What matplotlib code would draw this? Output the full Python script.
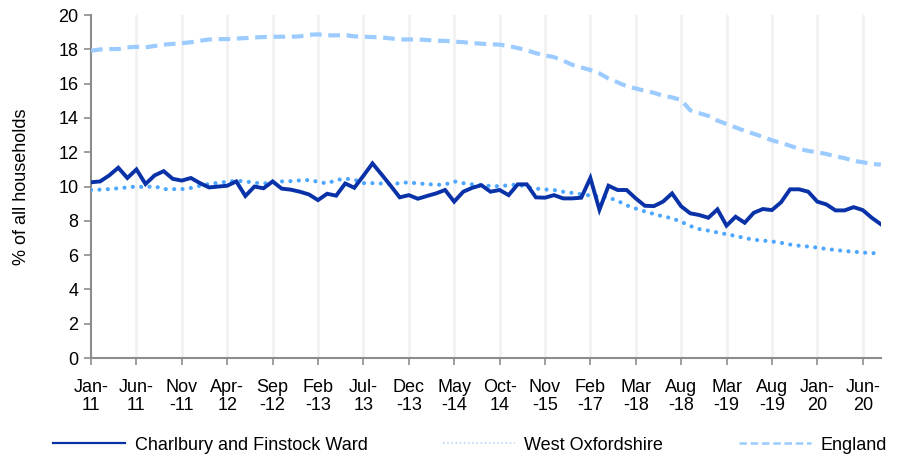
import matplotlib
matplotlib.use('Agg')
import matplotlib.pyplot as plt
from matplotlib.lines import Line2D

plt.rcParams['font.family'] = ['Liberation Sans', 'DejaVu Sans']

# tick labels, one every 5 data points
tick_labels = ['Jan-\n11', 'Jun-\n11', 'Nov\n-11', 'Apr-\n12', 'Sep\n-12', 'Feb\n-13',
               'Jul-\n13', 'Dec\n-13', 'May\n-14', 'Oct-\n14', 'Nov\n-15', 'Feb\n-17',
               'Mar\n-18', 'Aug\n-18', 'Mar\n-19', 'Aug\n-19', 'Jan-\n20', 'Jun-\n20']

ward = [10.25, 10.3, 10.65, 11.1, 10.5, 11.0, 10.15, 10.65, 10.9, 10.45,
        10.35, 10.5, 10.2, 9.95, 10.0, 10.05, 10.3, 9.45, 10.0, 9.9,
        10.3, 9.88, 9.82, 9.7, 9.54, 9.21, 9.58, 9.47, 10.18, 9.93,
        10.63, 11.35, 10.71, 10.05, 9.37, 9.5, 9.29, 9.45, 9.6, 9.8,
        9.12, 9.7, 9.93, 10.08, 9.7, 9.8, 9.5, 10.13, 10.13, 9.37,
        9.35, 9.5, 9.31, 9.31, 9.35, 10.5, 8.65, 10.05, 9.8, 9.8,
        9.31, 8.88, 8.86, 9.12, 9.6, 8.85, 8.44, 8.34, 8.18, 8.67,
        7.72, 8.24, 7.89, 8.47, 8.69, 8.63, 9.08, 9.84, 9.84, 9.7,
        9.12, 8.96, 8.61, 8.61, 8.8, 8.63, 8.18, 7.8]

west_oxon = [9.8, 9.82, 9.85, 9.9, 9.95, 10.0, 9.97, 10.02, 9.85, 9.85,
             9.85, 9.92, 10.05, 10.15, 10.22, 10.28, 10.34, 10.3, 10.22, 10.18,
             10.24, 10.3, 10.32, 10.36, 10.38, 10.28, 10.18, 10.38, 10.46, 10.4,
             10.2, 10.2, 10.18, 10.13, 10.2, 10.25, 10.18, 10.15, 10.1, 10.12,
             10.3, 10.2, 10.13, 10.1, 10.03, 10.02, 10.08, 10.12, 9.98, 9.88,
             9.83, 9.8, 9.7, 9.63, 9.55, 9.48, 9.42, 9.36, 9.17, 8.9,
             8.72, 8.55, 8.4, 8.26, 8.15, 7.95, 7.7, 7.52, 7.43, 7.32,
             7.22, 7.12, 7.0, 6.9, 6.85, 6.8, 6.72, 6.62, 6.55, 6.5,
             6.44, 6.36, 6.3, 6.24, 6.2, 6.15, 6.12, 6.1]

england = [17.92, 18.0, 18.02, 18.02, 18.12, 18.15, 18.12, 18.2, 18.28, 18.32,
           18.36, 18.42, 18.5, 18.58, 18.6, 18.6, 18.63, 18.66, 18.7, 18.72,
           18.74, 18.74, 18.74, 18.76, 18.85, 18.88, 18.82, 18.82, 18.84, 18.76,
           18.74, 18.72, 18.7, 18.64, 18.58, 18.58, 18.58, 18.55, 18.5, 18.5,
           18.45, 18.42, 18.37, 18.33, 18.3, 18.28, 18.2, 18.08, 17.95, 17.78,
           17.65, 17.55, 17.35, 17.1, 16.95, 16.8, 16.6, 16.3, 16.08, 15.85,
           15.72, 15.58, 15.47, 15.3, 15.2, 15.05, 14.45, 14.28, 14.12, 13.85,
           13.65, 13.45, 13.25, 13.08, 12.9, 12.7, 12.55, 12.38, 12.2, 12.08,
           12.0, 11.9, 11.76, 11.66, 11.5, 11.42, 11.32, 11.28]

c_ward = '#0a32a8'
c_wox = '#4da6ff'
c_eng = '#9ccbff'
grey = '#8c8c8c'
fs = 13

fig = plt.figure(figsize=(8.97, 4.58), dpi=100)
ax = fig.add_axes([0.1015, 0.2183, 0.8805, 0.7487])

x = list(range(len(ward)))
ax.plot(x, england, color=c_eng, lw=3.0, linestyle=(0, (2.8, 1.6)), zorder=3)
ax.plot(x, west_oxon, color=c_wox, lw=3.0, linestyle=(0, (0.01, 2.0)),
        dash_capstyle='round', zorder=4)
ax.plot(x, ward, color=c_ward, lw=2.8, solid_joinstyle='miter', zorder=5)

ticks = list(range(0, len(ward), 5))
ax.set_xticks(ticks)
ax.set_xticklabels(tick_labels, fontsize=fs, linespacing=1.05)
ax.set_xlim(0, len(ward) - 1)
ax.set_ylim(0, 20)
ax.set_yticks(range(0, 21, 2))
ax.tick_params(axis='y', labelsize=fs, length=5, width=1.2, color=grey, pad=4)
ax.tick_params(axis='x', length=5, width=1.2, color=grey, pad=10)

for t in ticks[1:]:
    ax.axvline(t, color='#f0f0f0', lw=1.8, zorder=1)

for s in ['top', 'right']:
    ax.spines[s].set_visible(False)
for s in ['left', 'bottom']:
    ax.spines[s].set_color(grey)
    ax.spines[s].set_linewidth(1.5)

ax.set_ylabel('% of all households', fontsize=fs)
ax.yaxis.set_label_coords(-0.077, 0.5)

handles = [Line2D([], [], color=c_ward, lw=1.6),
           Line2D([], [], color='#b8d8f8', lw=1.2, linestyle=(0, (1, 1.5))),
           Line2D([], [], color=c_eng, lw=1.8, linestyle=(0, (3, 1.5)))]
fig.legend(handles, ['Charlbury and Finstock Ward', 'West Oxfordshire', 'England'],
           loc='center', bbox_to_anchor=(0.524, 0.028), ncol=3, frameon=False,
           fontsize=fs, handlelength=4.0, handletextpad=0.5, columnspacing=4.2)

fig.savefig('out.png', dpi=100)
